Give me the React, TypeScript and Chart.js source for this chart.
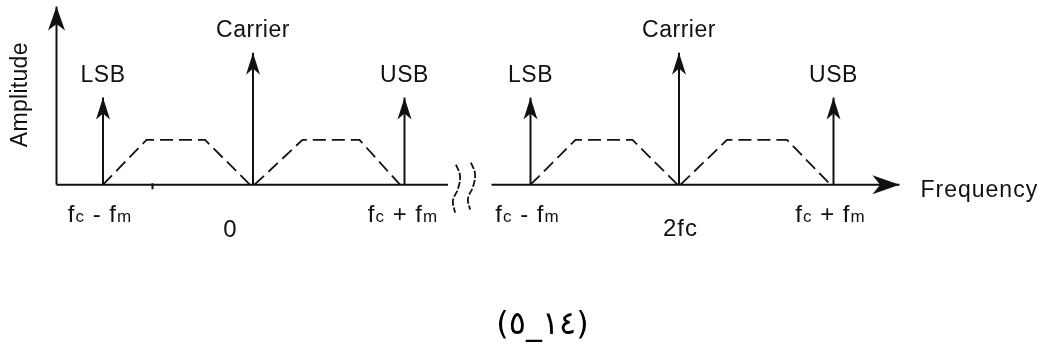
import React, { useEffect, useRef } from 'react';
import { Chart, registerables } from 'chart.js';

Chart.register(...registerables);

// ---- data (frequency units: carrier = 0, sidebands = ±1; amplitude units: carrier = 1) ----
const spikeLabels = ['LSB', 'Carrier', 'USB', 'LSB', 'Carrier', 'USB'];
const spikeFreqs = [-1, 0, 1.01, 1.85, 2.84, 3.87];
const spikeAmps = [0.66, 1, 0.66, 0.66, 1, 0.66];

const bandFreqs = [
  [-1.0, -0.71, -0.32, -0.02],
  [0.01, 0.33, 0.71, 0.98],
  [1.85, 2.15, 2.53, 2.83],
  [2.85, 3.16, 3.56, 3.85],
];
const bandAmps = [0, 0.34, 0.34, 0];

const freqTickLabels = ['f_c - f_m', '0', 'f_c + f_m', 'f_c - f_m', '2fc', 'f_c + f_m'];
const freqTickFreqs = [-1.02, -0.15, 1.0, 1.83, 2.85, 3.85];
const freqTickLevels = [-0.28, -0.395, -0.28, -0.28, -0.39, -0.28];

const ampAxisFreq = -1.31;
const ampAxisTop = 1.35;
const freqAxisLeft = [-1.31, 1.3];
const freqAxisRight = [1.59, 4.31];
const markTickFreq = -0.67;
const markTickAmps = [0.01, -0.035];

const breakFreqs1 = [1.353, 1.38, 1.367, 1.333, 1.347];
const breakAmps1 = [0.152, 0.068, -0.03, -0.121, -0.212];
const breakFreqs2 = [1.453, 1.48, 1.467, 1.433, 1.447];
const breakAmps2 = [0.167, 0.083, -0.015, -0.106, -0.189];

const xAxisTitle = 'Frequency';
const xAxisTitlePos = { x: 4.45, y: -0.09 };
const yAxisTitle = 'Amplitude';
const yAxisTitlePos = { x: -1.507, y: 0.682 };
// stored in logical order so that it displays as "(٥_١٤)"
const figureCaption = '(١٤_٥)';
const figureCaptionPos = { x: 1.93, y: -1.068 };

const INK = '#111';
const FONT = '"Liberation Sans", Arial, sans-serif';

const pts = (xs: number[], ys: number[]) => xs.map((x, i) => ({ x, y: ys[i] }));

function drawSubText(ctx: CanvasRenderingContext2D, text: string, cx: number, by: number) {
  // "_x" marks a subscript letter
  const parts: { t: string; sub: boolean }[] = [];
  for (let i = 0; i < text.length; i++) {
    if (text[i] === '_' && i + 1 < text.length) {
      parts.push({ t: text[i + 1], sub: true });
      i++;
    } else parts.push({ t: text[i], sub: false });
  }
  const fontOf = (sub: boolean) => (sub ? `17px ${FONT}` : `24px ${FONT}`);
  (ctx as any).letterSpacing = '1px';
  let total = 0;
  const widths = parts.map((p) => {
    ctx.font = fontOf(p.sub);
    const w = ctx.measureText(p.t).width;
    total += w;
    return w;
  });
  let x = cx - total / 2;
  ctx.textAlign = 'left';
  ctx.textBaseline = 'alphabetic';
  parts.forEach((p, i) => {
    ctx.font = fontOf(p.sub);
    ctx.fillText(p.t, x, by);
    x += widths[i];
  });
  (ctx as any).letterSpacing = '0px';
}

const diagramPlugin = {
  id: 'diagramPlugin',
  afterDatasetsDraw(chart: any) {
    const ctx: CanvasRenderingContext2D = chart.ctx;
    const xs = chart.scales.x;
    const ys = chart.scales.y;
    ctx.save();
    ctx.fillStyle = INK;

    // arrowheads at the end of flagged datasets
    chart.data.datasets.forEach((ds: any, i: number) => {
      if (!ds.arrowHead) return;
      const meta = chart.getDatasetMeta(i);
      const n = meta.data.length;
      const a = meta.data[n - 2];
      const b = meta.data[n - 1];
      const ang = Math.atan2(b.y - a.y, b.x - a.x);
      const L = ds.arrowHead.length;
      const W = ds.arrowHead.width;
      const dx = Math.cos(ang);
      const dy = Math.sin(ang);
      const px = -dy;
      const py = dx;
      ctx.beginPath();
      ctx.moveTo(b.x, b.y);
      ctx.lineTo(b.x - L * dx + (W / 2) * px, b.y - L * dy + (W / 2) * py);
      ctx.lineTo(b.x - 0.72 * L * dx, b.y - 0.72 * L * dy);
      ctx.lineTo(b.x - L * dx - (W / 2) * px, b.y - L * dy - (W / 2) * py);
      ctx.closePath();
      ctx.fill();
    });

    // spike labels
    ctx.font = `23px ${FONT}`;
    (ctx as any).letterSpacing = '0.5px';
    ctx.textAlign = 'center';
    ctx.textBaseline = 'alphabetic';
    spikeLabels.forEach((lab, i) => {
      const x = xs.getPixelForValue(spikeFreqs[i]);
      const y = ys.getPixelForValue(spikeAmps[i]) - 16;
      ctx.fillText(lab, x, y);
    });

    // frequency tick labels
    freqTickLabels.forEach((lab, i) => {
      const x = xs.getPixelForValue(freqTickFreqs[i]);
      const y = ys.getPixelForValue(freqTickLevels[i]);
      drawSubText(ctx, lab, x, y);
    });

    // axis titles
    ctx.font = `23px ${FONT}`;
    ctx.textAlign = 'left';
    ctx.textBaseline = 'alphabetic';
    (ctx as any).letterSpacing = '1px';
    ctx.fillText(xAxisTitle, xs.getPixelForValue(xAxisTitlePos.x), ys.getPixelForValue(xAxisTitlePos.y));
    (ctx as any).letterSpacing = '0.3px';

    ctx.save();
    ctx.translate(xs.getPixelForValue(yAxisTitlePos.x), ys.getPixelForValue(yAxisTitlePos.y));
    ctx.rotate(-Math.PI / 2);
    ctx.textAlign = 'center';
    ctx.fillText(yAxisTitle, 0, 0);
    ctx.restore();
    (ctx as any).letterSpacing = '0px';

    // caption
    ctx.font = '32px "DejaVu Sans", sans-serif';
    ctx.textAlign = 'center';
    ctx.textBaseline = 'middle';
    ctx.direction = 'ltr';
    ctx.fillStyle = '#000';
    ctx.fillText(figureCaption, xs.getPixelForValue(figureCaptionPos.x), ys.getPixelForValue(figureCaptionPos.y));

    ctx.restore();
  },
};

export default function App() {
  const ref = useRef<HTMLCanvasElement | null>(null);

  useEffect(() => {
    document.body.style.margin = '0';
    const canvas = ref.current;
    if (!canvas) return;

    const base = { showLine: true, pointRadius: 0, borderColor: INK, backgroundColor: INK, fill: false };
    const datasets: any[] = [
      ...spikeFreqs.map((f, i) => ({
        ...base,
        data: pts([f, f], [0, spikeAmps[i]]),
        borderWidth: 2,
        arrowHead: { length: 22, width: 14 },
      })),
      ...bandFreqs.map((fs) => ({
        ...base,
        data: pts(fs, bandAmps),
        borderWidth: 1.8,
        borderDash: [13, 6],
      })),
      {
        ...base,
        data: pts([ampAxisFreq, ampAxisFreq], [0, ampAxisTop]),
        borderWidth: 2,
        arrowHead: { length: 24, width: 17 },
      },
      { ...base, data: pts(freqAxisLeft, [0, 0]), borderWidth: 2 },
      {
        ...base,
        data: pts(freqAxisRight, [0, 0]),
        borderWidth: 2,
        arrowHead: { length: 27, width: 19 },
      },
      { ...base, data: pts([markTickFreq, markTickFreq], markTickAmps), borderWidth: 2 },
      { ...base, data: pts(breakFreqs1, breakAmps1), borderWidth: 1.8, tension: 0.4, borderDash: [7, 2] },
      { ...base, data: pts(breakFreqs2, breakAmps2), borderWidth: 1.8, tension: 0.4, borderDash: [7, 2] },
    ];

    const chart = new Chart(canvas, {
      type: 'scatter',
      data: { datasets },
      options: {
        animation: false,
        responsive: false,
        events: [],
        layout: { padding: { left: 28, right: 7, top: 0, bottom: 6 } },
        plugins: { legend: { display: false }, tooltip: { enabled: false }, title: { display: false } },
        scales: {
          x: { type: 'linear', min: -1.5, max: 5.2, display: false },
          y: { type: 'linear', min: -1.2, max: 1.4, display: false },
        },
      },
      plugins: [diagramPlugin],
    } as any);

    return () => chart.destroy();
  }, []);

  return (
    <div style={{ width: 1040, height: 349, background: '#fff' }}>
      <canvas ref={ref} width={1040} height={349} style={{ display: 'block' }} />
    </div>
  );
}
